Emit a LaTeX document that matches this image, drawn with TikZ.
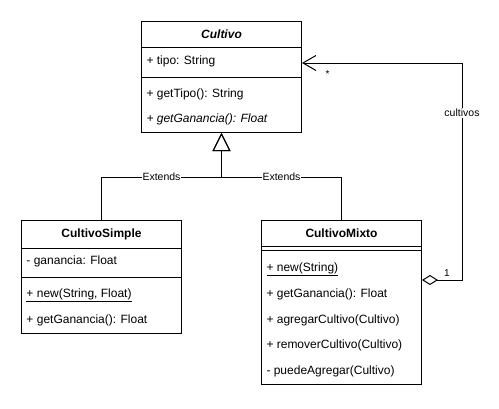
\documentclass[tikz,border=0pt]{standalone}
\usepackage{fontspec}
\setmainfont{Liberation Sans}
\usetikzlibrary{arrows.meta, positioning}
\tikzstyle{clase} = [
rectangle, draw=black, minimum width=160pt, anchor=north west, inner sep=0pt
]
\tikzstyle{titulo} = [
inner sep=0pt, text height=9pt, text depth=3pt, font=\bfseries\fontsize{12}{14}\selectfont
]
\tikzstyle{miembro} = [
anchor=west, inner sep=0pt, text height=9pt, text depth=3pt, font=\fontsize{12}{14}\selectfont
]
\tikzstyle{rotulo} = [fill=white, inner sep=1pt, font=\fontsize{10.5}{12}\selectfont]
\tikzstyle{extremo} = [inner sep=0pt, font=\fontsize{10}{12}\selectfont]
\tikzstyle{herencia} = [-{Triangle[open, length=18pt, width=18pt]}]
\tikzstyle{agregacion} = [{Diamond[open, length=16pt, width=10pt]}-{Straight Barb[length=13pt, width=15pt]}]

\begin{document}
\begin{tikzpicture}[x=1pt, y=-1pt, line width=1pt]
			\useasboundingbox (0,0) rectangle (499,408);

			% Clases
			\node (Cultivo) [clase, minimum height=111pt] at (141,21) {};
			\node (CultivoSimple) [clase, minimum height=113pt] at (21,220) {};
			\node (CultivoMixto) [clase, minimum height=164pt] at (261,220) {};

			% Separadores
			\draw ([yshift=-26pt]Cultivo.north west) -- ([yshift=-26pt]Cultivo.north east);
			\draw ([yshift=-56pt]Cultivo.north west) -- ([yshift=-56pt]Cultivo.north east);
			\draw ([yshift=-28pt]CultivoSimple.north west) -- ([yshift=-28pt]CultivoSimple.north east);
			\draw ([yshift=-57pt]CultivoSimple.north west) -- ([yshift=-57pt]CultivoSimple.north east);
			\draw ([yshift=-26pt]CultivoMixto.north west) -- ([yshift=-26pt]CultivoMixto.north east);
			\draw ([yshift=-30pt]CultivoMixto.north west) -- ([yshift=-30pt]CultivoMixto.north east);

			% Textos de Cultivo
			\node (t_Cultivo) [titulo] at ([yshift=-14pt]Cultivo.north) {\itshape Cultivo};
			\node (Cultivo_tipo) [miembro] at ([xshift=5pt, yshift=-40pt]Cultivo.north west) {+ tipo: String};
			\node (Cultivo_getTipo) [miembro] at ([xshift=5pt, yshift=-73pt]Cultivo.north west) {+ getTipo(): String};
			\node (Cultivo_getGanancia) [miembro] at ([xshift=5pt, yshift=-98pt]Cultivo.north west) {\itshape + getGanancia(): Float};

			% Textos de CultivoSimple
			\node (t_CultivoSimple) [titulo] at ([yshift=-14pt]CultivoSimple.north) {CultivoSimple};
			\node (Simple_ganancia) [miembro] at ([xshift=5pt, yshift=-41pt]CultivoSimple.north west) {- ganancia: Float};
			\node (Simple_new) [miembro] at ([xshift=5pt, yshift=-74pt]CultivoSimple.north west) {\underline{+ new(String, Float)}};
			\node (Simple_getGanancia) [miembro] at ([xshift=5pt, yshift=-100pt]CultivoSimple.north west) {+ getGanancia(): Float};

			% Textos de CultivoMixto
			\node (t_CultivoMixto) [titulo] at ([yshift=-14pt]CultivoMixto.north) {CultivoMixto};
			\node (Mixto_new) [miembro] at ([xshift=5pt, yshift=-48pt]CultivoMixto.north west) {\underline{+ new(String)}};
			\node (Mixto_getGanancia) [miembro] at ([xshift=5pt, yshift=-74pt]CultivoMixto.north west) {+ getGanancia(): Float};
			\node (Mixto_agregar) [miembro] at ([xshift=5pt, yshift=-100pt]CultivoMixto.north west) {+ agregarCultivo(Cultivo)};
			\node (Mixto_remover) [miembro] at ([xshift=5pt, yshift=-125pt]CultivoMixto.north west) {+ removerCultivo(Cultivo)};
			\node (Mixto_puede) [miembro] at ([xshift=5pt, yshift=-151pt]CultivoMixto.north west) {- puedeAgregar(Cultivo)};

			% Herencia
			\coordinate (union) at ([yshift=-44pt]Cultivo.south);
			\draw [herencia] (CultivoSimple.north) |- node[rotulo, pos=0.75] {Extends} (union) -- (Cultivo.south);
			\draw [herencia] (CultivoMixto.north) |- node[rotulo, pos=0.75] {Extends} (union) -- (Cultivo.south);

			% Agregacion
			\coordinate (agr_inicio) at ([yshift=-60pt]CultivoMixto.north east);
			\coordinate (agr_esquina) at ([xshift=40pt]agr_inicio);
			\coordinate (agr_fin) at ([yshift=-42pt]Cultivo.north east);
			\draw [agregacion] (agr_inicio) -- node[extremo, anchor=south, pos=0.62, yshift=3pt] {1} (agr_esquina)
				|- node[rotulo, pos=0.385] {cultivos} node[extremo, anchor=north, pos=0.92, yshift=-7pt] {*} (agr_fin);

		\end{tikzpicture}
\end{document}
